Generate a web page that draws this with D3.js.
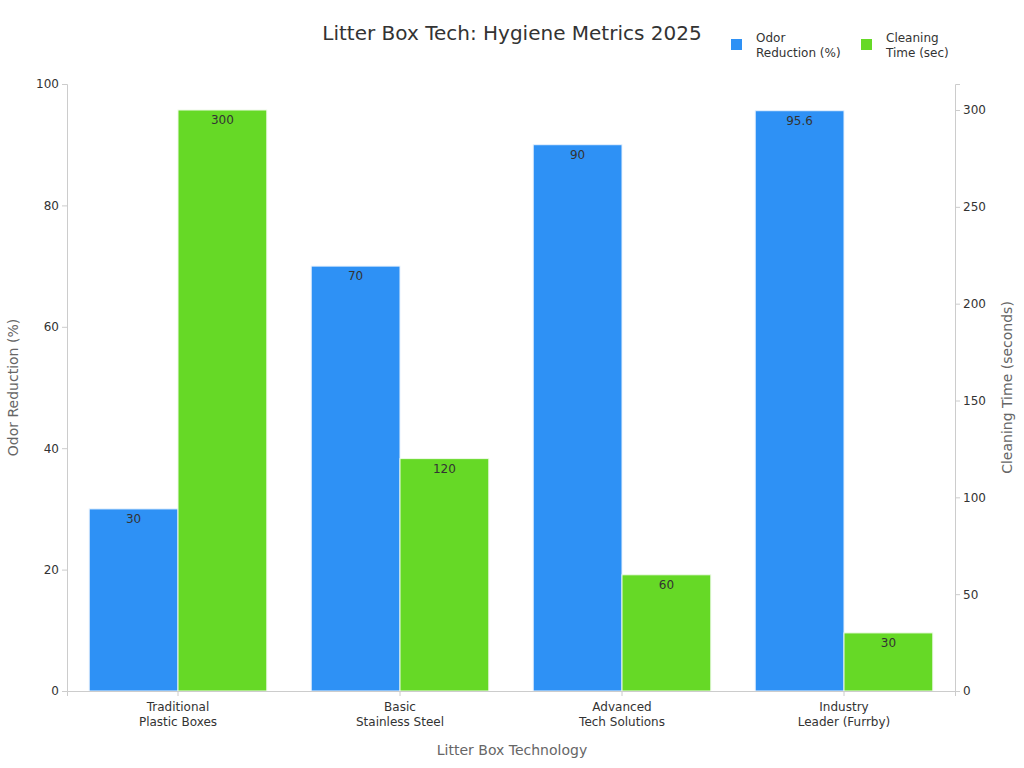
<!DOCTYPE html>
<html lang="en">
<head>
<meta charset="UTF-8">
<script src="https://cdnjs.cloudflare.com/ajax/libs/d3/7.8.5/d3.min.js"></script>
<style>
  body { margin: 0; background: #fff; font-family: "DejaVu Sans", sans-serif; }
  svg text { font-family: "DejaVu Sans", sans-serif; }
  .axis text { font-size: 12px; fill: #333; }
  .axis path, .axis line { stroke: #ccc; }
</style>
</head>
<body>
<svg width="1024" height="768"></svg>
<script>
  var categories = [["Traditional", "Plastic Boxes"], ["Basic", "Stainless Steel"], ["Advanced", "Tech Solutions"], ["Industry", "Leader (Furrby)"]];
  var odor = [30, 70, 90, 95.6];
  var cleaning = [300, 120, 60, 30];
  var leftTicks = [0, 20, 40, 60, 80, 100];
  var rightTicks = [0, 50, 100, 150, 200, 250, 300];

  var svg = d3.select("svg");
  var mLeft = 67, mRight = 955, mTop = 84, mBottom = 691;

  var x = d3.scaleBand().domain(d3.range(categories.length)).range([mLeft, mRight])
      .paddingInner(0.2).paddingOuter(0.1);
  var yL = d3.scaleLinear().domain([0, 100]).range([mBottom, mTop]);
  var yR = d3.scaleLinear().domain([0, 300 * (mBottom - mTop) / (mBottom - 110)]).range([mBottom, mTop]);
  var bw = x.bandwidth() / 2;

  // bars
  var groups = svg.selectAll(".g").data(categories).enter().append("g");
  groups.append("rect")
      .attr("x", function (d, i) { return x(i); })
      .attr("y", function (d, i) { return yL(odor[i]); })
      .attr("width", bw)
      .attr("height", function (d, i) { return mBottom - yL(odor[i]); })
      .attr("fill", "#2e91f5").attr("stroke", "#e8f2fd").attr("stroke-width", 1);
  groups.append("rect")
      .attr("x", function (d, i) { return x(i) + bw; })
      .attr("y", function (d, i) { return yR(cleaning[i]); })
      .attr("width", bw)
      .attr("height", function (d, i) { return mBottom - yR(cleaning[i]); })
      .attr("fill", "#66d926").attr("stroke", "#eefae8").attr("stroke-width", 1);
  groups.append("text")
      .attr("x", function (d, i) { return x(i) + bw / 2; })
      .attr("y", function (d, i) { return yL(odor[i]) + 14; })
      .attr("text-anchor", "middle").attr("font-size", 12).attr("fill", "#333")
      .text(function (d, i) { return odor[i]; });
  groups.append("text")
      .attr("x", function (d, i) { return x(i) + bw * 1.5; })
      .attr("y", function (d, i) { return yR(cleaning[i]) + 14; })
      .attr("text-anchor", "middle").attr("font-size", 12).attr("fill", "#333")
      .text(function (d, i) { return cleaning[i]; });

  // axes
  svg.append("g").attr("class", "axis").attr("transform", "translate(" + mLeft + ",0)")
      .call(d3.axisLeft(yL).tickValues(leftTicks).tickSize(5));
  svg.append("g").attr("class", "axis").attr("transform", "translate(" + mRight + ",0)")
      .call(d3.axisRight(yR).tickValues(rightTicks).tickSize(5));
  var xa = svg.append("g").attr("class", "axis").attr("transform", "translate(0," + mBottom + ")")
      .call(d3.axisBottom(x).tickSize(5).tickFormat(""));
  xa.selectAll(".tick").append("text")
      .attr("text-anchor", "middle").attr("fill", "#333").attr("font-size", 12)
      .selectAll("tspan").data(function (d) { return categories[d]; }).enter().append("tspan")
      .attr("x", 0).attr("y", function (d, j) { return 20 + j * 15; })
      .text(function (d) { return d; });

  // titles
  svg.append("text").attr("x", 512).attr("y", 40).attr("text-anchor", "middle")
      .attr("font-size", 20).attr("fill", "#333").text("Litter Box Tech: Hygiene Metrics 2025");
  svg.append("text").attr("x", 512).attr("y", 755).attr("text-anchor", "middle")
      .attr("font-size", 14).attr("fill", "#666").text("Litter Box Technology");
  svg.append("text").attr("transform", "translate(18," + (mTop + mBottom) / 2 + ") rotate(-90)")
      .attr("text-anchor", "middle").attr("font-size", 14).attr("fill", "#666").text("Odor Reduction (%)");
  svg.append("text").attr("transform", "translate(1012," + (mTop + mBottom) / 2 + ") rotate(-90)")
      .attr("text-anchor", "middle").attr("font-size", 14).attr("fill", "#666").text("Cleaning Time (seconds)");

  // legend
  var legend = [["#2e91f5", "Odor", "Reduction (%)", 731], ["#66d926", "Cleaning", "Time (sec)", 861]];
  legend.forEach(function (l) {
    svg.append("rect").attr("x", l[3]).attr("y", 39).attr("width", 11).attr("height", 11).attr("fill", l[0]);
    var t = svg.append("text").attr("font-size", 12).attr("fill", "#333");
    t.append("tspan").attr("x", l[3] + 25).attr("y", 42).text(l[1]);
    t.append("tspan").attr("x", l[3] + 25).attr("y", 57).text(l[2]);
  });
</script>
</body>
</html>
